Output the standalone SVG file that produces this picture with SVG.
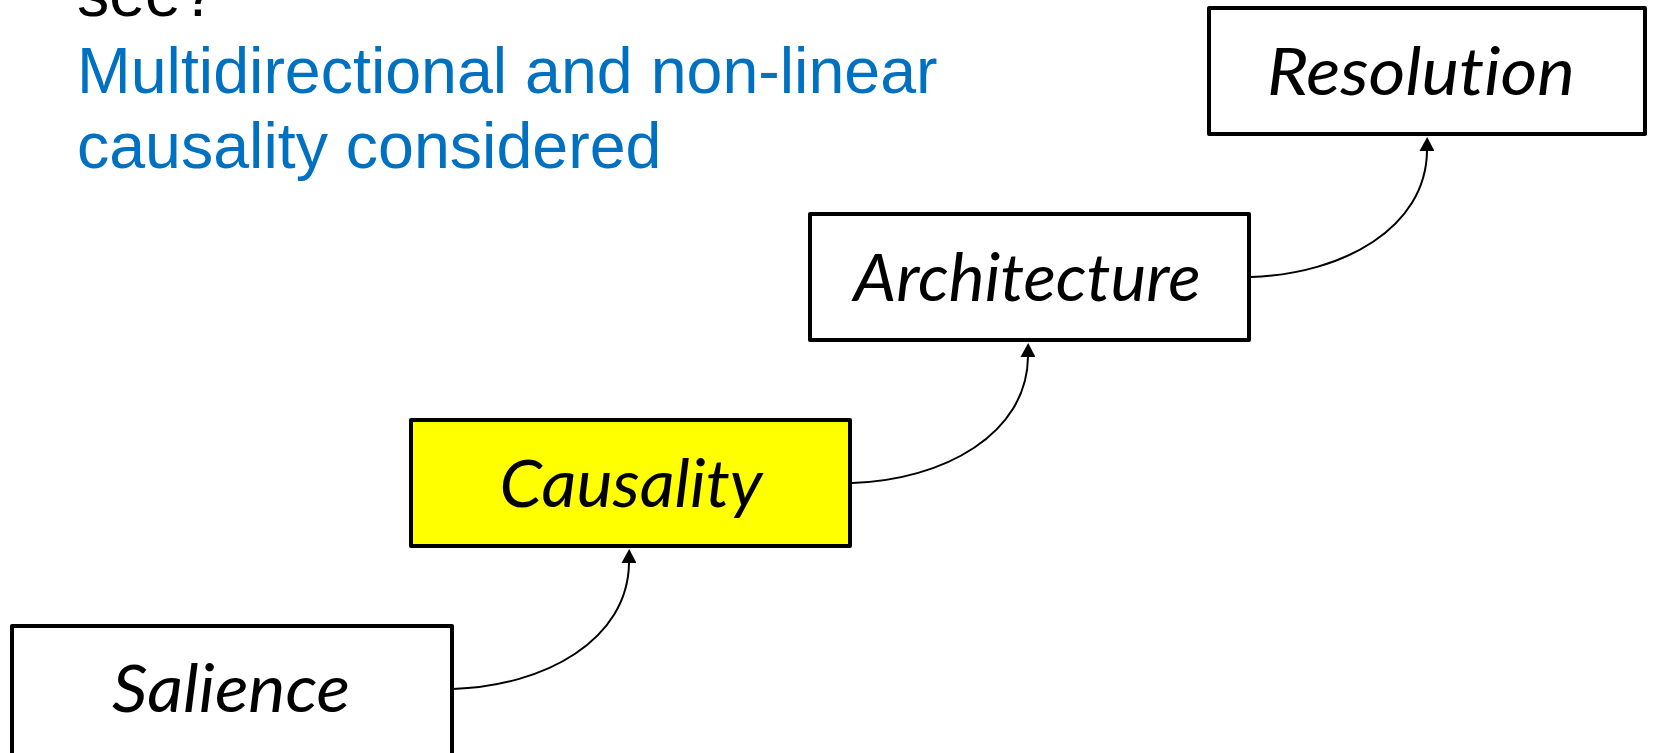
<svg xmlns="http://www.w3.org/2000/svg" width="1653" height="753" viewBox="0 0 1653 753">
  <style>
    .box { fill: #ffffff; stroke: #000000; stroke-width: 4; stroke-linejoin: round; }
    .box.hl { fill: #ffff00; }
    .label { font-family: "Lato", "Noto Sans", "DejaVu Sans", sans-serif; font-style: italic; font-size: 66px; fill: #000000; text-anchor: middle; font-variant-ligatures: none; font-feature-settings: "liga" 0; }
    .note { font-family: "Liberation Sans", Arial, sans-serif; font-size: 64.5px; }
    .link { fill: none; stroke: #000000; stroke-width: 2; }
  </style>
  <defs>
    <marker id="arrow" viewBox="0 0 14 15" refX="0" refY="7.5" markerWidth="14" markerHeight="15" markerUnits="userSpaceOnUse" orient="auto">
      <path d="M0,0 L14,7.5 L0,15 Z" fill="#000000"/>
    </marker>
  </defs>

  <!-- heading text -->
  <g id="heading">
    <text class="note" x="77" y="16" fill="#000000">see?</text>
    <text class="note" x="77" y="93" fill="#0070C0">Multidirectional and non-linear</text>
    <text class="note" x="77" y="168" fill="#0070C0">causality considered</text>
  </g>

  <!-- step boxes, rising left to right -->
  <g id="salience">
    <rect class="box" x="12" y="626" width="440" height="134"/>
    <text class="label" x="231" y="712" textLength="238" lengthAdjust="spacingAndGlyphs">Salience</text>
  </g>
  <g id="causality">
    <rect class="box hl" x="411" y="420" width="439" height="126"/>
    <text class="label" x="631" y="507" textLength="263" lengthAdjust="spacingAndGlyphs">Causality</text>
  </g>
  <g id="architecture">
    <rect class="box" x="810" y="214" width="439" height="126"/>
    <text class="label" x="1027" y="301" textLength="347" lengthAdjust="spacingAndGlyphs">Architecture</text>
  </g>
  <g id="resolution">
    <rect class="box" x="1209" y="8" width="436" height="126"/>
    <text class="label" x="1421" y="95" textLength="308" lengthAdjust="spacingAndGlyphs">Resolution</text>
  </g>

  <!-- curved connectors from each box's right side up to the next box -->
  <g id="connectors">
    <path class="link" marker-end="url(#arrow)" d="M453,689 C545,686 628,640 629,563"/>
    <path class="link" marker-end="url(#arrow)" d="M852,483 C944,480 1027,434 1028,357"/>
    <path class="link" marker-end="url(#arrow)" d="M1251,277 C1343,274 1426,228 1427,151"/>
  </g>
</svg>
